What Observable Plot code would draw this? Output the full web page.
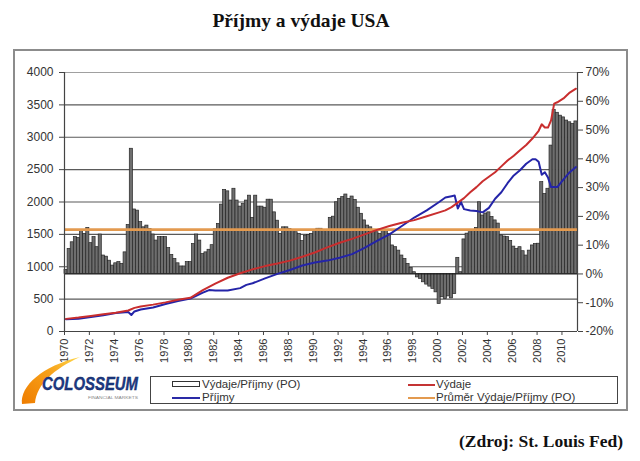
<!DOCTYPE html>
<html>
<head>
<meta charset="utf-8">
<script src="https://cdn.jsdelivr.net/npm/d3@7"></script>
<script src="https://cdn.jsdelivr.net/npm/@observablehq/plot@0.6"></script>
<style>
  html, body { margin: 0; padding: 0; background: #fff; }
  body { width: 640px; height: 461px; position: relative; overflow: hidden; font-family: "Liberation Sans", Arial, sans-serif; }
  #frame { position: absolute; left: 13px; top: 49px; width: 611px; height: 358px; border: 2px solid #8c8c8c; }
  #chart { position: absolute; left: 0; top: 0; }
  #title { position: absolute; left: 0; width: 602px; top: 10px; text-align: center; font-family: "Liberation Serif", "Times New Roman", serif; font-weight: bold; font-size: 19.5px; color: #111; }
  #source { position: absolute; right: 17px; top: 431px; font-family: "Liberation Serif", "Times New Roman", serif; font-weight: bold; font-size: 17.5px; color: #111; }
  #overlay { position: absolute; left: 0; top: 0; pointer-events: none; }
</style>
</head>
<body>
<div id="frame"></div>
<div id="title">Příjmy a výdaje USA</div>
<div id="chart"></div>
<svg id="overlay" width="640" height="461" xmlns="http://www.w3.org/2000/svg">
  <defs>
    <linearGradient id="sw" x1="0" y1="1" x2="1" y2="0">
      <stop offset="0" stop-color="#ef7d00"/>
      <stop offset="0.6" stop-color="#f7a21b"/>
      <stop offset="1" stop-color="#ffd84a"/>
    </linearGradient>
  </defs>
  <!-- logo -->
  <path d="M22 404 C20 386 42 366 80 357 C54 369 37 384 35 403 Z" fill="url(#sw)"/>
  <text x="42" y="390" font-family="Liberation Sans, Arial, sans-serif" font-weight="bold" font-style="italic" font-size="18" fill="#1c3a86" stroke="#0f2456" stroke-width="0.4" textLength="96" lengthAdjust="spacingAndGlyphs">COLOSSEUM</text>
  <text x="88" y="399" font-family="Liberation Sans, Arial, sans-serif" font-size="4" fill="#888" textLength="50" lengthAdjust="spacingAndGlyphs">FINANCIAL MARKETS</text>
  <!-- legend -->
  <rect x="150.5" y="376.5" width="467" height="27" fill="#fff" stroke="#444" stroke-width="1"/>
  <rect x="172.5" y="381.5" width="27" height="5" fill="#fff" stroke="#333" stroke-width="1"/>
  <text x="202" y="388" font-family="Liberation Sans, Arial, sans-serif" font-size="11.5" fill="#333">Výdaje/Příjmy (PO)</text>
  <line x1="172" y1="398" x2="200" y2="398" stroke="#2a2aa6" stroke-width="2"/>
  <text x="202" y="401" font-family="Liberation Sans, Arial, sans-serif" font-size="11.5" fill="#333">Příjmy</text>
  <line x1="408" y1="385" x2="435" y2="385" stroke="#c43434" stroke-width="2"/>
  <text x="436" y="388" font-family="Liberation Sans, Arial, sans-serif" font-size="11.5" fill="#333">Výdaje</text>
  <line x1="408" y1="398" x2="435" y2="398" stroke="#e39a4f" stroke-width="2"/>
  <text x="436" y="401" font-family="Liberation Sans, Arial, sans-serif" font-size="11.5" fill="#333">Průměr Výdaje/Příjmy (PO)</text>
</svg>
<div id="source">(Zdroj: St. Louis Fed)</div>
<script>
// Výdaje/Příjmy (PO) – quarterly, % (right axis), from 1970 Q1
const podil = [
  1.4, 8.7, 11, 12.8,
  12.5, 15.1, 13.9, 16,
  10.7, 12.8, 9.3, 13.7,
  6.4, 6, 4.6, 2.9,
  3.7, 4.1, 3.5, 7.5,
  17, 43.5, 22.4, 22,
  18, 16.2, 16.8, 15.6,
  13.7, 11.6, 12.8, 12.8,
  12.8, 9, 6.6, 5.2,
  3.7, 2.6, 2.6, 4.1,
  4.1, 10.4, 13.7, 11.6,
  6.9, 7.5, 8.4, 10,
  15.5, 17.4, 24.1, 29.2,
  28.7, 25.5, 29.6, 25.5,
  23.4, 24.3, 25.5, 27.2,
  19.5, 27.2, 23.4, 23.4,
  23, 25.8, 25.8, 21.4,
  18.5, 13.9, 16.2, 16.2,
  15.6, 15, 14.5, 13.9,
  11.4, 13.3, 13.5, 13.9,
  15, 15.7, 15.7, 15,
  15, 19.5, 19.9, 24.9,
  26.1, 26.7, 27.6, 26.1,
  26.9, 25.7, 23, 20.9,
  18.6, 16.8, 16.2, 15.1,
  14.5, 13.9, 15.1, 15.1,
  13.9, 9.9, 9.3, 8.1,
  6.4, 5.2, 3.5, 2.1,
  0.6, -1.2, -1.7, -2.9,
  -3.7, -4.4, -5.2, -6.4,
  -10.4, -8.1, -8.7, -7.8,
  -8.5, -7, 5.6, 0.6,
  12, 14, 14.5, 15,
  16, 24.9, 20.3, 21,
  21.4, 19.8, 18.6, 17.5,
  13.4, 13, 12.8, 11.5,
  9.5, 8.7, 9.3, 7.9,
  6.4, 8.1, 9.9, 10.4,
  10.5, 31.9, 27.8, 29.6,
  44.6, 57, 56, 55,
  54.4, 53.3, 52.7, 52.1,
  53
];
const startYear = 1970;

// Průměr Výdaje/Příjmy (PO), %
const prumer = 15.4;

// Výdaje (bn USD, left axis)
const vydajeT = [1970, 1971, 1972, 1973, 1974, 1975, 1975.5, 1976, 1977, 1978, 1979, 1980, 1981, 1982, 1983, 1984, 1985, 1986, 1987, 1988, 1989, 1990, 1991, 1992, 1993, 1994, 1995, 1996, 1997, 1998, 1999, 2000, 2000.5, 2001, 2001.5, 2002, 2002.5, 2003, 2003.5, 2004, 2004.5, 2005, 2005.5, 2006, 2006.5, 2007, 2007.5, 2008, 2008.25, 2008.5, 2008.75, 2009, 2009.25, 2009.5, 2010, 2010.5, 2011];
const vydaje  = [195, 215, 240, 265, 290, 325, 365, 385, 415, 450, 490, 520, 640, 740, 830, 900, 960, 1010, 1050, 1095, 1155, 1220, 1300, 1370, 1430, 1500, 1570, 1630, 1680, 1720, 1780, 1840, 1870, 1920, 1990, 2060, 2150, 2230, 2320, 2390, 2460, 2550, 2640, 2715, 2800, 2880, 2980, 3100, 3200, 3150, 3150, 3260, 3520, 3540, 3600, 3690, 3750];

// Příjmy (bn USD, left axis)
const prijmyT = [1970, 1971, 1972, 1973, 1974, 1975, 1975.25, 1975.5, 1976, 1977, 1978, 1979, 1980, 1981, 1981.5, 1982, 1983, 1984, 1984.5, 1985, 1986, 1987, 1988, 1989, 1990, 1991, 1992, 1993, 1994, 1995, 1996, 1997, 1998, 1999, 2000, 2000.5, 2001, 2001.25, 2001.5, 2001.75, 2002, 2002.5, 2003, 2003.5, 2004, 2004.5, 2005, 2005.5, 2006, 2006.5, 2007, 2007.5, 2007.75, 2008, 2008.25, 2008.5, 2008.75, 2009, 2009.5, 2010, 2010.5, 2011];
const prijmy  = [190, 198, 222, 252, 285, 300, 255, 310, 340, 372, 425, 470, 510, 600, 640, 635, 632, 670, 720, 745, 820, 890, 950, 1020, 1065, 1095, 1140, 1195, 1290, 1400, 1500, 1630, 1760, 1870, 2000, 2070, 2090, 2100, 1900, 2000, 1890, 1870, 1860, 1840, 1910, 2050, 2150, 2290, 2410, 2490, 2590, 2660, 2660, 2620, 2420, 2460, 2380, 2230, 2230, 2350, 2460, 2540];

// axis ticks
const leftTicks = [0, 500, 1000, 1500, 2000, 2500, 3000, 3500, 4000];
const rightTicks = [-20, -10, 0, 10, 20, 30, 40, 50, 60, 70];
const yearTicks = d3.range(1970, 2011, 2);

// secondary axis (%): -20% .. 70% mapped onto 0 .. 4000
const pMin = -20, pMax = 70, lMax = 4000;
const toL = p => (p - pMin) * lMax / (pMax - pMin);
const fromL = v => v * (pMax - pMin) / lMax + pMin;

const bars = podil.map((p, i) => ({t: startYear + i / 4, p}));
const vydajeData = vydajeT.map((t, i) => ({t, v: vydaje[i]}));
const prijmyData = prijmyT.map((t, i) => ({t, v: prijmy[i]}));
const xEnd = startYear + podil.length / 4;

const chart = Plot.plot({
  width: 640,
  height: 461,
  marginLeft: 64,
  marginRight: 63,
  marginTop: 72,
  marginBottom: 130,
  style: {fontFamily: "'Liberation Sans', Arial, sans-serif", fontSize: "12px", color: "#333", background: "transparent"},
  x: {domain: [startYear, xEnd]},
  y: {domain: [0, lMax]},
  marks: [
    Plot.ruleY(leftTicks.filter(d => d > 0 && d < lMax), {stroke: "#5a5a5a", strokeWidth: 1.2}),
    Plot.ruleY([lMax], {stroke: "#a0a0a0", strokeWidth: 1}),
    Plot.rect(bars, {x1: "t", x2: d => d.t + 0.25, y1: () => toL(0), y2: d => toL(d.p), fill: "#6e6e6e", stroke: "#262626", strokeWidth: 0.7}),
    Plot.ruleY([toL(0)], {stroke: "#222", strokeWidth: 1.2}),
    Plot.ruleY([toL(prumer)], {stroke: "#e39a4f", strokeWidth: 2.6}),
    Plot.line(prijmyData, {x: d => d.t + 0.125, y: "v", stroke: "#2424a8", strokeWidth: 2}),
    Plot.line(vydajeData, {x: d => d.t + 0.125, y: "v", stroke: "#c92e2e", strokeWidth: 2}),
    Plot.ruleX([startYear], {stroke: "#444", strokeWidth: 1.2}),
    Plot.ruleX([xEnd], {stroke: "#444", strokeWidth: 1.2}),
    Plot.ruleY([0], {stroke: "#444", strokeWidth: 1.2}),
    Plot.axisY({anchor: "left", ticks: leftTicks, tickSize: 5, tickPadding: 6, tickFormat: d => String(d), label: null, fontSize: 12, stroke: "#444"}),
    Plot.axisY({anchor: "right", ticks: rightTicks.map(toL), tickSize: 5, tickPadding: 3, tickFormat: d => Math.round(fromL(d)) + "%", label: null, fontSize: 12, stroke: "#444"}),
    Plot.axisX({anchor: "bottom", ticks: yearTicks, tickSize: 4, tickPadding: 3, tickRotate: -90, tickFormat: d => String(d), label: null, fontSize: 11, stroke: "#444"})
  ]
});
document.getElementById("chart").appendChild(chart);
</script>
</body>
</html>
